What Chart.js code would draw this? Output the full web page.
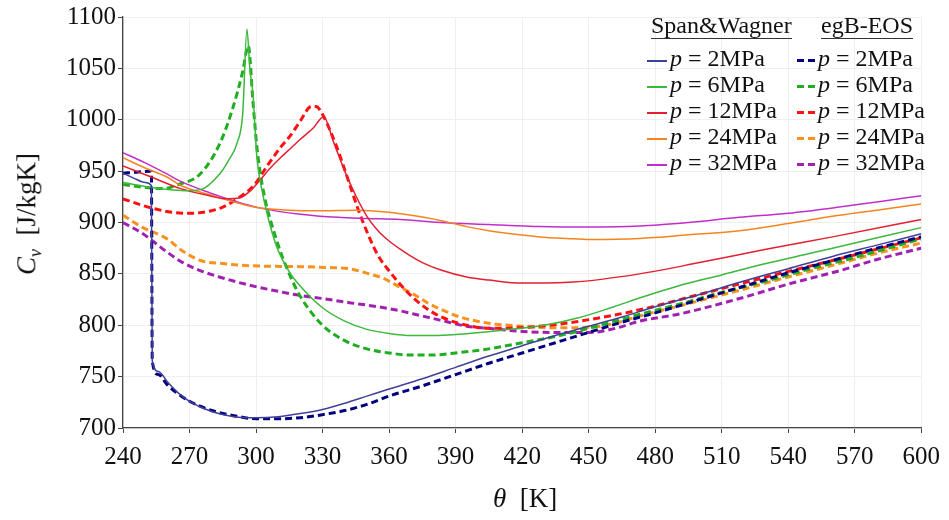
<!DOCTYPE html>
<html>
<head>
<meta charset="utf-8">
<script src="https://cdn.jsdelivr.net/npm/chart.js@4/dist/chart.umd.min.js"></script>
<style>
    body { margin: 0; background: #fff; }
    #wrap { position: relative; width: 949px; height: 520px; font-family: "Liberation Serif", "DejaVu Serif", serif; color: #111; }
    #chart { position: absolute; left: 0; top: 0; }
    .ytitle { position: absolute; left: 29px; top: 214px; transform: translate(-50%, -50%) rotate(-90deg); font-size: 27px; white-space: nowrap; }
    .xtitle { position: absolute; left: 525px; top: 498px; transform: translate(-50%, -50%); font-size: 27px; white-space: nowrap; }
    .legend { position: absolute; left: 0; top: 0; font-size: 24px; }
    .lg-head { position: absolute; top: 12px; line-height: 26px; padding-bottom: 0; border-bottom: 1px solid #333; white-space: nowrap; }
    .lg-row { position: absolute; height: 26px; line-height: 26px; white-space: nowrap; }
    .lg-solid, .lg-dash { position: absolute; top: 15px; height: 2px; }
    .lg-dash { height: 3px; top: 14px; }
    .lg-text { position: absolute; top: 0; }
</style>
</head>
<body>
<div id="wrap">
    <canvas id="chart" width="949" height="520"></canvas>
    <div class="ytitle"><i>C</i><sub style="font-size:18px"><i>v</i></sub>&nbsp; [J/kgK]</div>
    <div class="xtitle"><i>θ</i>&nbsp; [K]</div>
    <div class="legend" id="legend"></div>
</div>
<script>
// 坐标轴刻度
const xTicks = [240, 270, 300, 330, 360, 390, 420, 450, 480, 510, 540, 570, 600];
const yTicks = [700, 750, 800, 850, 900, 950, 1000, 1050, 1100];

// 压力 (图例)
const pressures = ['2MPa', '6MPa', '12MPa', '24MPa', '32MPa'];
const swColors = ['#40409a', '#3cb83c', '#e42030', '#f5841f', '#c22ec8'];
const egbColors = ['#000080', '#1fae1f', '#ff1010', '#f7921e', '#a020b0'];

// Span&Wagner, p = 2MPa
const sw2T  = [240, 245, 250, 252.8, 253.2, 256, 260, 265, 270, 280, 290, 300, 310, 320, 330, 340, 350, 360, 375, 390, 405, 420, 435, 450, 465, 480, 500, 520, 540, 560, 580, 600];
const sw2Cv = [948, 943, 939, 936, 765, 755, 745, 734, 726, 716, 711, 710, 711, 714, 718, 724, 731, 738, 748, 759, 770, 780, 790, 799, 808, 818, 830, 843, 855, 867, 878, 889];

// Span&Wagner, p = 6MPa
const sw6T  = [240, 250, 260, 268, 275, 283.5, 287.5, 291.4, 294, 295.9, 297.2, 298.6, 300.4, 303, 306, 309.4, 315, 320, 330, 340, 350, 360, 370, 380, 390, 410, 430, 445, 460, 475, 490, 510, 530, 550, 570, 600];
const sw6Cv = [939, 935, 932, 931, 932, 947, 960, 977, 1006, 1088, 1050, 1025, 963, 928, 900, 876, 852, 838, 817, 804, 796, 792, 790, 790, 791, 795, 800, 807, 817, 828, 838, 849, 860, 870, 880, 895];

// Span&Wagner, p = 12MPa
const sw12T  = [240, 253, 266, 279, 286, 292.7, 297, 301.7, 306, 311, 316, 320, 325.8, 330.5, 335, 340, 345, 350, 355, 360, 365, 370, 375, 383, 395, 405, 420, 443, 473, 500, 530, 560, 600];
const sw12Cv = [955, 944, 933, 926, 923, 924, 930, 941, 952, 963, 973, 981, 992, 1003, 978, 950, 926, 906, 892, 882, 874, 867, 861, 854, 847, 844, 841, 842, 850, 861, 874, 886, 903];

// Span&Wagner, p = 24MPa
const sw24T  = [240, 250, 260, 266, 279, 290, 302, 315, 330, 345, 360, 370, 383, 395, 405, 415, 428, 440, 451, 473, 495, 518, 540, 563, 580, 600];
const sw24Cv = [963, 953, 944, 936, 927, 920, 914, 912, 911.5, 912, 910, 907, 902, 896, 892, 889, 886, 884.5, 883.5, 884.5, 888, 892, 899, 907, 912, 918];

// Span&Wagner, p = 32MPa
const sw32T  = [240, 250, 260, 266, 279, 290, 302, 320, 337, 350, 365, 383, 405, 428, 450, 473, 495, 518, 540, 563, 580, 600];
const sw32Cv = [968, 958, 947, 940, 929, 921, 914, 908, 905, 904, 903, 900, 898, 896, 895.5, 896.5, 900, 905, 909, 915, 920, 926];

// egB-EOS, p = 2MPa
const egb2T  = [240, 246, 252.8, 253.2, 256, 260, 265, 270, 280, 290, 300, 310, 320, 330, 340, 350, 360, 375, 390, 405, 420, 435, 450, 465, 480, 500, 520, 540, 560, 580, 600];
const egb2Cv = [948, 949, 950, 765, 752, 742, 733, 726, 717, 712, 709, 709, 710, 713, 717, 723, 731, 741, 752, 763, 773, 783, 793, 803, 812, 825, 838, 851, 863, 875, 886];

// egB-EOS, p = 6MPa
const egb6T  = [240, 250, 258, 265, 274.7, 283.7, 289.6, 294, 296.5, 298.6, 300.4, 303, 309.4, 315, 320, 330, 340, 350, 360, 370, 380, 390, 405, 420, 437, 450, 472, 490, 510, 530, 550, 570, 600];
const egb6Cv = [937, 934, 933, 937, 947, 977, 1012, 1047, 1072, 1018, 973, 934, 882, 850, 828, 800, 785, 777, 773, 771, 771, 773, 777, 783, 790, 797, 810, 820, 832, 843, 855, 866, 884];

// egB-EOS, p = 12MPa
const egb12T  = [240, 253, 262, 270, 279, 285, 290, 299, 305, 311, 316, 320, 325, 327, 331, 333.5, 336.5, 341, 346, 351, 355, 360, 367, 374, 380, 387, 395, 405, 422, 443, 473, 500, 530, 560, 600];
const egb12Cv = [923, 914, 910, 909, 911, 915, 921, 936, 955, 973, 986, 999, 1013, 1013, 1001, 989, 973, 945, 913, 886, 868, 853, 835, 821, 812, 805, 800, 797, 798, 803, 815, 830, 847, 863, 885];

// egB-EOS, p = 24MPa
const egb24T  = [240, 249, 260, 267, 275, 285, 297, 320, 335, 342, 351, 357, 365, 372, 378, 385, 392, 405, 420, 435, 451, 462, 473, 495, 518, 540, 563, 580, 600];
const egb24Cv = [907, 895, 884, 872, 863, 860, 858, 857, 856, 855, 850, 846, 837, 829, 821, 814, 808, 802, 799, 797.5, 798, 802, 809, 821, 834, 847, 860, 870, 880];

// egB-EOS, p = 32MPa
const egb32T  = [240, 249, 260, 267, 275, 285, 297, 310, 320, 330, 342, 355, 365, 375, 383, 395, 405, 420, 435, 451, 462, 473, 491, 518, 540, 563, 580, 600];
const egb32Cv = [900, 889, 871, 861, 853, 846, 839, 833, 829, 826, 822, 818, 814, 809, 805, 799, 797, 794, 793, 793, 797, 804, 811, 826, 840, 853, 864, 875];

const swSeries = [[sw2T, sw2Cv], [sw6T, sw6Cv], [sw12T, sw12Cv], [sw24T, sw24Cv], [sw32T, sw32Cv]];
const egbSeries = [[egb2T, egb2Cv], [egb6T, egb6Cv], [egb12T, egb12Cv], [egb24T, egb24Cv], [egb32T, egb32Cv]];

const fontFamily = '"Liberation Serif", "DejaVu Serif", serif';

function toPoints(xs, ys) {
    return xs.map((x, i) => ({ x: x, y: ys[i] }));
}

function makeDatasets() {
    const sets = [];
    swSeries.forEach(([t, cv], i) => {
        sets.push({
            label: 'Span&Wagner ' + pressures[i],
            data: toPoints(t, cv),
            borderColor: swColors[i],
            borderWidth: 1.5,
            pointRadius: 0,
            cubicInterpolationMode: 'monotone',
            fill: false
        });
    });
    egbSeries.forEach(([t, cv], i) => {
        sets.push({
            label: 'egB-EOS ' + pressures[i],
            data: toPoints(t, cv),
            borderColor: egbColors[i],
            borderWidth: 3,
            borderDash: [7, 4],
            pointRadius: 0,
            cubicInterpolationMode: 'monotone',
            fill: false
        });
    });
    return sets;
}

// 图例 (HTML)
function buildLegend() {
    const lg = document.getElementById('legend');
    let html = '';
    html += '<div class="lg-head" style="left:651px">Span&amp;Wagner</div>';
    html += '<div class="lg-head" style="left:821px">egB-EOS</div>';
    pressures.forEach((p, i) => {
        const top = 45 + i * 26;
        html += `<div class="lg-row" style="left:0;top:${top}px">
            <span class="lg-solid" style="left:647px;width:20px;background:${swColors[i]}"></span>
            <span class="lg-text" style="left:670px"><i>p</i> = ${p}</span>
            <span class="lg-dash" style="left:797px;width:19px;background:repeating-linear-gradient(90deg, ${egbColors[i]} 0 7px, transparent 7px 11px)"></span>
            <span class="lg-text" style="left:818px"><i>p</i> = ${p}</span>
        </div>`;
    });
    lg.innerHTML = html;
}

const ctx = document.getElementById('chart').getContext('2d');
new Chart(ctx, {
    type: 'line',
    data: { datasets: makeDatasets() },
    options: {
        responsive: false,
        animation: false,
        layout: { padding: { top: 16, right: 27, left: 0, bottom: 0 } },
        plugins: {
            legend: { display: false },
            tooltip: { enabled: false }
        },
        scales: {
            x: {
                type: 'linear',
                min: 240,
                max: 600,
                afterBuildTicks: (scale) => { scale.ticks = xTicks.map(v => ({ value: v })); },
                afterFit: (scale) => { scale.height = 92; },
                ticks: { color: '#111', padding: 9, maxRotation: 0, font: { family: fontFamily, size: 25 }, callback: v => String(v) },
                grid: { color: '#efefef', tickColor: '#444', tickLength: 5 },
                border: { color: '#444', width: 1.3 }
            },
            y: {
                type: 'linear',
                min: 700,
                max: 1100,
                afterBuildTicks: (scale) => { scale.ticks = yTicks.map(v => ({ value: v })); },
                afterFit: (scale) => { scale.width = 123; },
                ticks: { color: '#111', padding: 2, font: { family: fontFamily, size: 25 }, callback: v => String(v) },
                grid: { color: '#efefef', tickColor: '#444', tickLength: 5 },
                border: { color: '#444', width: 1.3 }
            }
        }
    }
});

buildLegend();
</script>
</body>
</html>
